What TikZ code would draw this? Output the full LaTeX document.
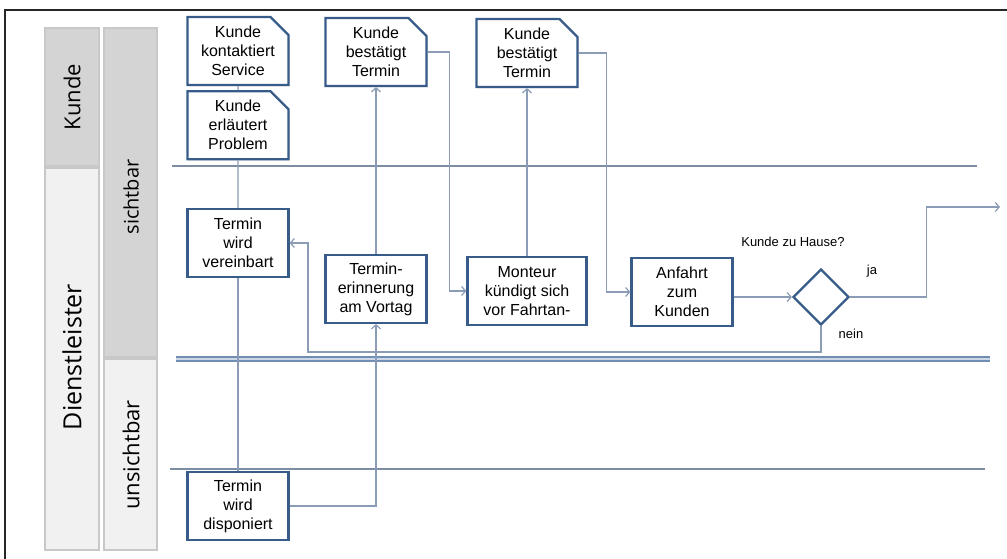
\documentclass[tikz,border=0pt]{standalone}
\usepackage{fontspec}
\setmainfont{Liberation Sans}
\newfontfamily\lanefont{Open Sans}
\usepackage{xcolor}
\usepackage{tikz}
\usetikzlibrary{arrows.meta,shapes.misc,shapes.geometric,shadows,positioning}

\definecolor{rahmenblau}{RGB}{56,92,138}
\definecolor{pfeilgrau}{RGB}{138,156,182}
\definecolor{liniengrau}{RGB}{125,142,164}
\definecolor{doppelblau}{RGB}{112,141,180}
\definecolor{bahndunkel}{RGB}{212,212,212}
\definecolor{bahnhell}{RGB}{241,241,241}
\definecolor{bahnrand}{RGB}{200,200,200}

\begin{document}
\begin{tikzpicture}[x=1pt, y=-1pt, >={Straight Barb[length=4pt,width=9pt]}, thick]
    \tikzstyle{schritt}=[rectangle, draw=rahmenblau, line width=2.2pt, fill=white, inner sep=0pt,
      minimum width=101pt, minimum height=68pt, align=center,
      font=\fontsize{16}{19}\selectfont,
      drop shadow={shadow xshift=1.2pt, shadow yshift=-1.2pt, opacity=.35}]
    \tikzstyle{kundenschritt}=[schritt, chamfered rectangle, chamfered rectangle corners=north east,
      chamfered rectangle xsep=0pt, chamfered rectangle ysep=0pt, chamfered rectangle angle=45,
      chamfered rectangle sep=9pt]
    \tikzstyle{weiche}=[diamond, draw=rahmenblau, line width=2.2pt, fill=white, inner sep=0pt,
      minimum width=56pt, minimum height=56pt]
    \tikzstyle{fluss}=[draw=pfeilgrau, line width=1.2pt]
    \tikzstyle{bahn}=[draw=bahnrand, line width=1.2pt]
    \tikzstyle{bahntext}=[rotate=90, font=\lanefont\fontsize{22}{24}\selectfont]
    \tikzstyle{hinweis}=[font=\fontsize{13}{15}\selectfont]

    \useasboundingbox (0,0) rectangle (1007,559);

    % frame
    \draw[line width=2pt, black!85] (1007,10) -- (5,10) -- (5,559);

    % lanes
    \draw[bahn, fill=bahndunkel] (45,28) rectangle (99,166);
    \draw[bahn, fill=bahnhell] (45,168) rectangle (99,550);
    \draw[bahn, fill=bahndunkel] (104,28) rectangle (157,357);
    \draw[bahn, fill=bahnhell] (104,359) rectangle (157,550);
    \node[bahntext] (kunde) at (72,97) {Kunde};
    \node[bahntext, font=\lanefont\fontsize{25}{27}\selectfont] (dienstleister) at (72,357) {Dienstleister};
    \node[bahntext, font=\lanefont\fontsize{20}{22}\selectfont] (sichtbar) at (131,197) {sichtbar};
    \node[bahntext] (unsichtbar) at (131,455) {unsichtbar};

    \draw[liniengrau, line width=1.2pt] (172,166) -- (977,166);
    \fill[doppelblau!35] (176,357) rectangle (990,361);
    \draw[doppelblau, line width=1.6pt] (176,357) -- (990,357);
    \draw[doppelblau, line width=1.6pt] (176,361) -- (990,361);
    \draw[liniengrau, line width=1.2pt] (170,469) -- (985,469);

    % steps
    \node[kundenschritt] (kontakt) at (238,51) {Kunde\\kontaktiert\\Service};
    \node[kundenschritt] (problem) [below=4pt of kontakt] {Kunde\\erläutert\\Problem};
    \node[kundenschritt] (best1) at (376,52) {Kunde\\bestätigt\\Termin};
    \node[kundenschritt] (best2) at (527,53) {Kunde\\bestätigt\\Termin};
    \node[schritt] (vereinb) at (238,243) {Termin\\wird\\vereinbart};
    \node[schritt] (erinn) at (376,289) {Termin-\\erinnerung\\am Vortag};
    \node[schritt, minimum width=119pt] (monteur) at (527,291) {Monteur\\kündigt sich\\vor Fahrtan-};
    \node[schritt] (anfahrt) at (682,292) {Anfahrt\\zum\\Kunden};
    \node[weiche] (raute) at (821,297) {};
    \node[schritt] (disp) at (238,506) {Termin\\wird\\disponiert};

    \node[hinweis] (frage) at (793,242) {Kunde zu Hause?};
    \node[hinweis] (ja) at (872,271) {ja};
    \node[hinweis] (nein) at (851,334) {nein};

    \coordinate (ende) at (1000,207);
    \coordinate (knick) at (308,352);

    % flow
    \path[fluss]
    (kontakt) edge [] (problem)
    (problem) edge [] (vereinb)
    (vereinb) edge [] (disp);
    \draw[fluss, ->] (disp.east) -| (erinn.south);
    \draw[fluss, ->] (erinn.north) -- (best1.south);
    \draw[fluss, ->] (best1.east) -- ++(22,0) |- (monteur.west);
    \draw[fluss, ->] (monteur.north) -- (best2.south);
    \draw[fluss, ->] (best2.east) -- ++(28,0) |- (anfahrt.west);
    \draw[fluss, ->] (anfahrt.east |- raute.west) -- (raute.west);
    \draw[fluss, ->] (raute.east) -- ++(76,0) |- (ende);
    \draw[fluss, ->] (raute.south) |- (knick) |- (vereinb.east);

  \end{tikzpicture}
\end{document}
